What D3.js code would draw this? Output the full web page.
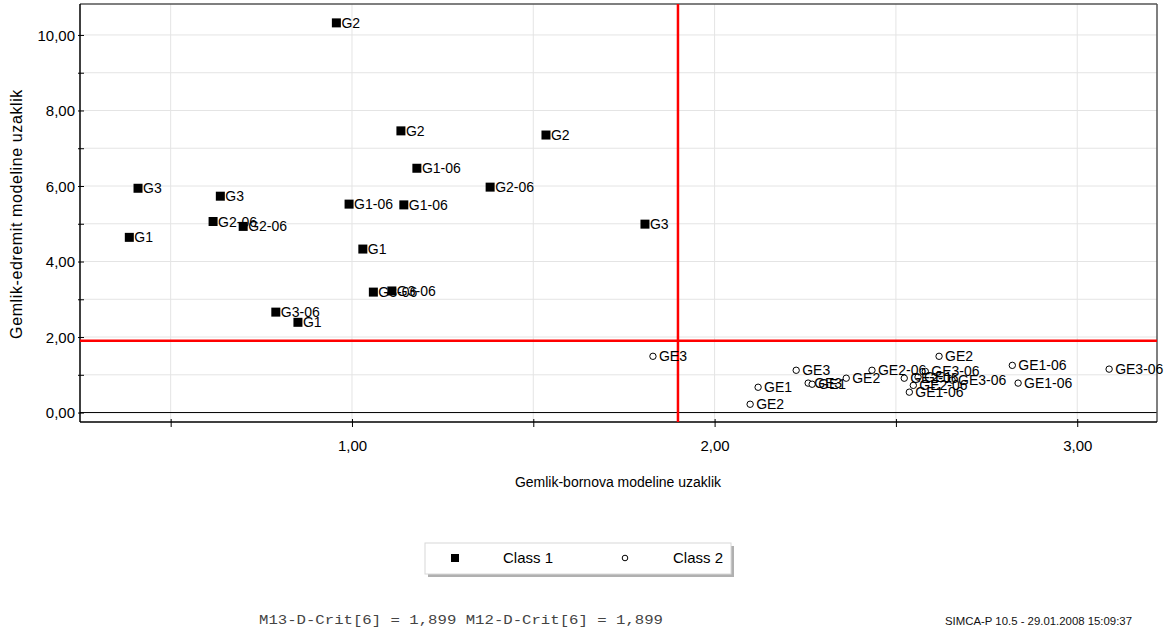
<!DOCTYPE html>
<html>
<head>
<meta charset="utf-8">
<script src="https://cdn.jsdelivr.net/npm/d3@7"></script>
<style>
  html, body { margin: 0; padding: 0; background: #fff; }
  svg { display: block; font-family: "Liberation Sans", Arial, sans-serif; }
</style>
</head>
<body>
<svg id="chart" width="1176" height="633"></svg>
<script>
// Distances to the two class models (x: Gemlik-bornova, y: Gemlik-edremit)
const class1Labels = ["G2","G2","G2","G1-06","G3","G3","G2-06","G1-06","G1-06","G2-06","G2-06","G3","G1","G1","G3-06","G3-06","G3-06","G1"];
const class1X      = [0.957,1.135,1.535,1.179,0.410,0.637,1.381,0.992,1.143,0.617,0.700,1.808,0.386,1.030,1.059,1.110,0.790,0.851];
const class1Y      = [10.32,7.46,7.35,6.47,5.94,5.73,5.97,5.52,5.50,5.06,4.93,4.99,4.64,4.33,3.19,3.22,2.66,2.39];

const class2Labels = ["GE3","GE1","GE2","GE3","GE3","GE1","GE2","GE2-06","GE2-06","GE1","GE2-06","GE1-06","GE3-06","GE2","GE3-06","GE1-06","GE1-06","GE3-06"];
const class2X      = [1.830,2.120,2.098,2.225,2.258,2.269,2.363,2.434,2.523,2.561,2.548,2.537,2.581,2.619,2.655,2.821,2.837,3.088];
const class2Y      = [1.49,0.67,0.22,1.12,0.78,0.75,0.91,1.12,0.91,0.94,0.72,0.54,1.09,1.49,0.86,1.25,0.78,1.15];

// Critical distance for both models
const critX = 1.899;
const critY = 1.899;

const xTicks = [0.5, 1, 1.5, 2, 2.5, 3];
const yTicks = [0,1,2,3,4,5,6,7,8,9,10];
const xTitle = "Gemlik-bornova modeline uzaklik";
const yTitle = "Gemlik-edremit modeline uzaklik";
const legendNames = ["Class 1", "Class 2"];
const footerLeft = "M13-D-Crit[6] = 1,899 M12-D-Crit[6] = 1,899";
const footerRight = "SIMCA-P 10.5 - 29.01.2008 15:09:37";

const svg = d3.select("#chart");
const L = 80, R = 1157, T = 4, B = 422;

const x = d3.scaleLinear().domain([0.25, 3.22]).range([L, R]);
const y = d3.scaleLinear().domain([-0.25, 10.82]).range([B, T]);

const locale = d3.formatLocale({decimal: ",", thousands: ".", grouping: [3], currency: ["", ""]});
const fmt = locale.format(".2f");

// grid
const grid = svg.append("g");
grid.selectAll("line.gx").data(xTicks).join("line")
  .attr("x1", d => x(d)).attr("x2", d => x(d)).attr("y1", T).attr("y2", B)
  .attr("stroke", "#e4e4e4").attr("stroke-width", 1);
grid.selectAll("line.gy").data(yTicks).join("line")
  .attr("x1", L).attr("x2", R).attr("y1", d => y(d)).attr("y2", d => y(d))
  .attr("stroke", "#e4e4e4").attr("stroke-width", 1);

// zero line
svg.append("line").attr("x1", L).attr("x2", R).attr("y1", y(0)).attr("y2", y(0))
  .attr("stroke", "#000").attr("stroke-width", 1);

// frame: top/right grey, left/bottom black
svg.append("line").attr("x1", L).attr("x2", R).attr("y1", T).attr("y2", T).attr("stroke", "#555").attr("stroke-width", 1.5);
svg.append("line").attr("x1", R).attr("x2", R).attr("y1", T).attr("y2", B).attr("stroke", "#555").attr("stroke-width", 1.5);

// axes
const xAxis = d3.axisBottom(x).tickValues(xTicks).tickSize(5)
  .tickFormat(d => Number.isInteger(d) ? fmt(d) : "");
const gx = svg.append("g").attr("transform", `translate(0,${B})`).call(xAxis);
gx.select(".domain").remove();
gx.selectAll(".tick line").attr("y1", -3).attr("y2", 5).attr("stroke", "#000");
gx.selectAll(".tick text").attr("y", 18).attr("dy", "0.71em")
  .attr("font-size", 15).attr("font-family", "Liberation Sans, Arial, sans-serif").attr("fill", "#000");

const yAxis = d3.axisLeft(y).tickValues(yTicks).tickSize(3)
  .tickFormat(d => d % 2 === 0 ? fmt(d) : "");
const gy = svg.append("g").attr("transform", `translate(${L},0)`).call(yAxis);
gy.select(".domain").remove();
gy.selectAll(".tick line").attr("x1", -2).attr("x2", 4).attr("stroke", "#000");
gy.selectAll(".tick text").attr("x", -5).attr("dy", "0.35em")
  .attr("font-size", 15).attr("font-family", "Liberation Sans, Arial, sans-serif").attr("fill", "#000");

svg.append("line").attr("x1", L).attr("x2", L).attr("y1", T).attr("y2", B).attr("stroke", "#000").attr("stroke-width", 1.5);
svg.append("line").attr("x1", L).attr("x2", R).attr("y1", B).attr("y2", B).attr("stroke", "#000").attr("stroke-width", 1.5);

// critical limits
svg.append("line").attr("x1", x(critX)).attr("x2", x(critX)).attr("y1", T).attr("y2", B)
  .attr("stroke", "#ff0000").attr("stroke-width", 2.5);
svg.append("line").attr("x1", L).attr("x2", R).attr("y1", y(critY)).attr("y2", y(critY))
  .attr("stroke", "#ff0000").attr("stroke-width", 2.5);

// class 1 points
const c1 = class1X.map((v, i) => ({x: v, y: class1Y[i], label: class1Labels[i]}));
const c2 = class2X.map((v, i) => ({x: v, y: class2Y[i], label: class2Labels[i]}));

const p1 = svg.append("g");
p1.selectAll("rect").data(c1).join("rect")
  .attr("x", d => x(d.x) - 4.5).attr("y", d => y(d.y) - 4.5)
  .attr("width", 9).attr("height", 9).attr("fill", "#000");
p1.selectAll("text").data(c1).join("text")
  .attr("x", d => x(d.x) + 5).attr("y", d => y(d.y)).attr("dy", "0.36em")
  .attr("font-size", 14).attr("fill", "#000").text(d => d.label);

// class 2 points
const p2 = svg.append("g");
p2.selectAll("circle").data(c2).join("circle")
  .attr("cx", d => x(d.x)).attr("cy", d => y(d.y)).attr("r", 3.2)
  .attr("fill", "#fff").attr("stroke", "#000").attr("stroke-width", 1);
p2.selectAll("text").data(c2).join("text")
  .attr("x", d => x(d.x) + 6).attr("y", d => y(d.y)).attr("dy", "0.36em")
  .attr("font-size", 14).attr("fill", "#000").text(d => d.label);

// axis titles
svg.append("text").attr("x", 618).attr("y", 487).attr("text-anchor", "middle")
  .attr("font-size", 14).attr("fill", "#000").text(xTitle);
svg.append("text").attr("transform", "translate(22,214) rotate(-90)").attr("text-anchor", "middle")
  .attr("font-size", 16).attr("letter-spacing", 0.6).attr("fill", "#000").text(yTitle);

// legend
const lg = svg.append("g");
lg.append("rect").attr("x", 428).attr("y", 546).attr("width", 306).attr("height", 31).attr("fill", "#b0b0b0");
lg.append("rect").attr("x", 425).attr("y", 543).attr("width", 306).attr("height", 31)
  .attr("fill", "#fff").attr("stroke", "#d8d8d8").attr("stroke-width", 1);
lg.append("rect").attr("x", 451).attr("y", 554).attr("width", 8).attr("height", 8).attr("fill", "#000");
lg.append("circle").attr("cx", 625).attr("cy", 558).attr("r", 2.8).attr("fill", "#fff").attr("stroke", "#000");
lg.selectAll("text.lab").data(legendNames).join("text")
  .attr("x", (d, i) => i === 0 ? 503 : 673).attr("y", 558).attr("dy", "0.36em")
  .attr("font-size", 15).attr("fill", "#000").text(d => d);

// footer
svg.append("text").attr("x", 259).attr("y", 624)
  .attr("font-family", "Liberation Mono, Courier New, monospace").attr("font-size", 12)
  .attr("textLength", 404).attr("lengthAdjust", "spacingAndGlyphs")
  .attr("fill", "#444").text(footerLeft);
svg.append("text").attr("x", 945).attr("y", 625)
  .attr("font-size", 11.5).attr("textLength", 187).attr("lengthAdjust", "spacingAndGlyphs")
  .attr("fill", "#111").text(footerRight);
</script>
</body>
</html>
